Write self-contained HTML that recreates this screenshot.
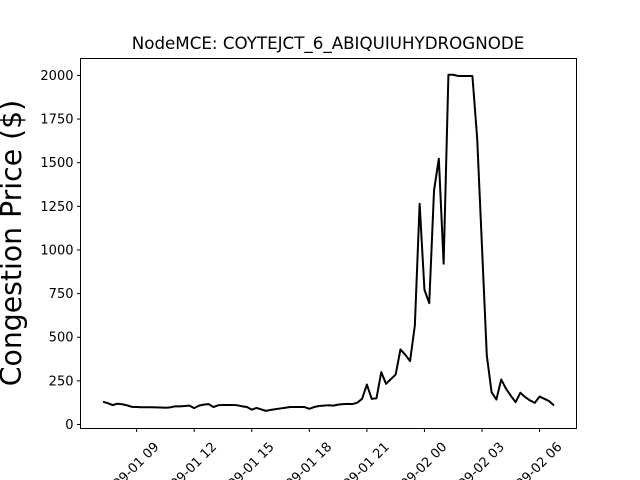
<!DOCTYPE html>
<html><head><meta charset="utf-8"><style>
html,body{margin:0;padding:0;background:#fff;}
svg{display:block;font-family:"DejaVu Sans","Liberation Sans",sans-serif;}
</style></head><body>
<svg id="chart" width="640" height="480" viewBox="0 0 640 480">
<rect x="0" y="0" width="640" height="480" fill="#fff"/>
<text x="328" y="49" text-anchor="middle" font-size="16.7">NodeMCE: COYTEJCT_6_ABIQUIUHYDROGNODE</text>
<text transform="translate(21,243) rotate(-90)" text-anchor="middle" font-size="28.3">Congestion Price ($)</text>
<g id="yticks"></g><g id="xticks"></g>
<path id="line" fill="none" stroke="#000" stroke-width="2" stroke-linejoin="round"/>
<rect x="80.5" y="58.5" width="496" height="370" fill="none" stroke="#000" stroke-width="1"/>
</svg>
<script>
const startHour = 7.25;
const stepHours = 0.25;
const prices = [130,122,111,119,116,110,101,100,99,99,99,98,97,96,98,104,104,106,108,94,108,114,117,100,110,112,112,112,110,104,100,85,95,86,78,84,88,92,96,100,100,100,100,90,100,106,108,110,108,114,117,118,117,125,147,229,147,150,300,233,260,286,430,400,363,567,1265,772,695,1341,1523,921,2004,2004,1997,1997,1997,1997,1637,1016,395,185,143,258,205,165,128,182,157,138,124,160,147,134,109];
const yTicks = [0,250,500,750,1000,1250,1500,1750,2000];
const xTickHours = [9,12,15,18,21,24,27,30];
const xTickLabels = ["09-01 09","09-01 12","09-01 15","09-01 18","09-01 21","09-02 00","09-02 03","09-02 06"];
const L=80.5,R=576.5,T=58.5,B=428.5;
const xmin=6.075,xmax=31.925,ymin=-23,ymax=2097;
const X=h=>L+(h-xmin)/(xmax-xmin)*(R-L);
const Y=v=>B-(v-ymin)/(ymax-ymin)*(B-T);
const NS="http://www.w3.org/2000/svg";
const yg=document.getElementById('yticks'), xg=document.getElementById('xticks');
yTicks.forEach(v=>{
  const y=Y(v);
  const l=document.createElementNS(NS,'line');
  l.setAttribute('x1',L-3.5);l.setAttribute('x2',L);l.setAttribute('y1',y);l.setAttribute('y2',y);l.setAttribute('stroke','#000');
  
  
  yg.appendChild(l);
  const t=document.createElementNS(NS,'text');
  t.setAttribute('x',L-7);t.setAttribute('y',y+4.5);t.setAttribute('text-anchor','end');t.setAttribute('font-size','13');
  t.textContent=v;
  
  
  yg.appendChild(t);
});
xTickHours.forEach((h,i)=>{
  const x=X(h);
  const l=document.createElementNS(NS,'line');
  l.setAttribute('x1',x);l.setAttribute('x2',x);l.setAttribute('y1',B);l.setAttribute('y2',B+3.5);l.setAttribute('stroke','#000');
  
  
  xg.appendChild(l);
  const t=document.createElementNS(NS,'text');
  t.setAttribute('transform','translate('+(x+23)+','+(B+19)+') rotate(-45)');
  t.setAttribute('text-anchor','end');t.setAttribute('font-size','13');
  t.textContent=xTickLabels[i];
  
  
  xg.appendChild(t);
});
document.getElementById('line').setAttribute('d',prices.map((v,i)=>(i?'L':'M')+X(startHour+i*stepHours).toFixed(2)+','+Y(v).toFixed(2)).join(''));
</script>
</body></html>
